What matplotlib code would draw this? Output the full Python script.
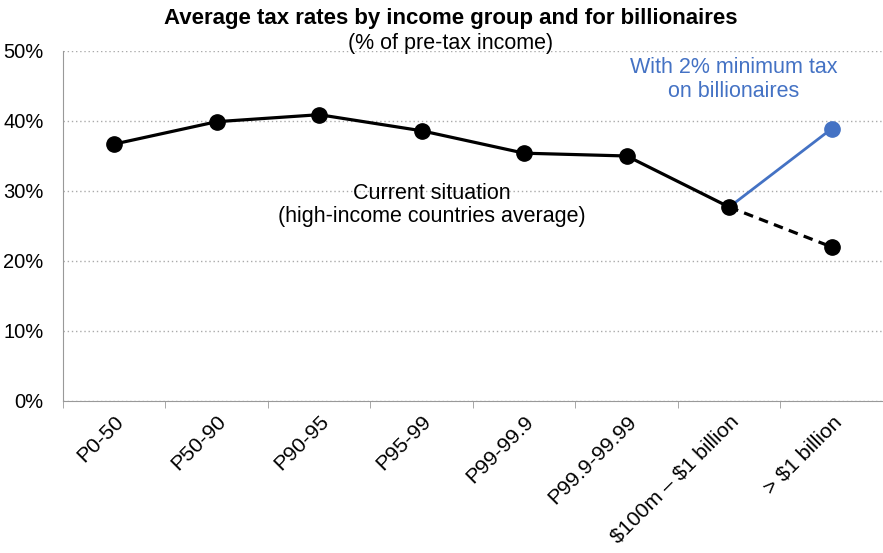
import matplotlib.pyplot as plt
import numpy as np

plt.rcParams['font.family'] = ['Liberation Sans', 'DejaVu Sans']

groups = ['P0-50', 'P50-90', 'P90-95', 'P95-99', 'P99-99.9', 'P99.9-99.99',
          r'\$100m – \$1 billion', r'> \$1 billion']
current = [36.7, 39.9, 40.9, 38.6, 35.4, 35.0, 27.7, 22.0]
with_min_tax = [27.7, 38.9]
yticks = [0, 10, 20, 30, 40, 50]

x = np.arange(len(groups))
blue = '#4472C4'

fig = plt.figure(figsize=(8.83, 5.53), dpi=100)
ax = fig.add_axes([0.0713, 0.2749, 0.9287, 0.6329])

# current situation: solid up to $100m group, dashed to billionaires
ax.plot(x[:7], current[:7], color='black', lw=2.3, marker='o', ms=11, zorder=3)
ax.plot(x[6:], current[6:], color='black', lw=2.3, ls=(0, (3, 2)), zorder=2)
ax.plot(x[7:], current[7:], color='black', marker='o', ms=11, ls='none', zorder=3)
# with 2% minimum tax
ax.plot(x[6:], with_min_tax, color=blue, lw=2.0, zorder=2)
ax.plot(x[7:], with_min_tax[1:], color=blue, marker='o', ms=11, ls='none', zorder=3)

ax.set_xlim(-0.5, len(groups) - 0.5)
ax.set_ylim(0, 50)
ax.set_yticks(yticks)
ax.set_yticklabels([f'{v}%' for v in yticks], fontsize=14.5)
ax.yaxis.grid(True, ls=(0, (1, 2)), color='#aaaaaa', lw=1)
ax.set_axisbelow(True)

ax.set_xticks(x)
ax.set_xticklabels(groups, rotation=45, ha='right', rotation_mode='anchor', fontsize=15.3)
ax.set_xticks(np.arange(len(groups) + 1) - 0.5, minor=True)
ax.tick_params(axis='x', which='major', length=0, pad=8)
ax.tick_params(axis='x', which='minor', length=5, color='#999999')
ax.tick_params(axis='y', length=0, pad=14)

for s in ['top', 'right']:
    ax.spines[s].set_visible(False)
for s in ['left', 'bottom']:
    ax.spines[s].set_color('#999999')

ax.text(3.1, 28.0, 'Current situation\n(high-income countries average)',
        ha='center', va='center', fontsize=15.5, linespacing=1.15)
ax.text(6.04, 45.9, 'With 2% minimum tax\non billionaires', color=blue,
        ha='center', va='center', fontsize=15.5, linespacing=1.15)

fig.text(0.51, 0.967, 'Average tax rates by income group and for billionaires',
         ha='center', va='center', fontsize=16, fontweight='bold')
fig.text(0.51, 0.922, '(% of pre-tax income)', ha='center', va='center', fontsize=15.5)

fig.savefig('out.png', dpi=100)
